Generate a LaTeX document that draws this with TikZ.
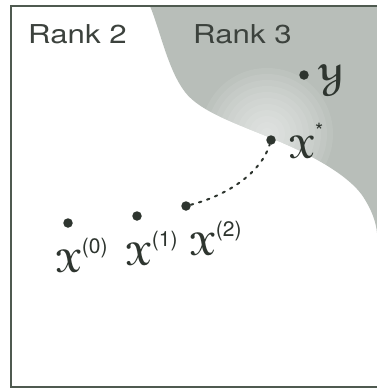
\documentclass[tikz,border=0pt]{standalone}
\usepackage{fontspec}
\setsansfont{TeX Gyre Heros}
\usepackage[mathscr]{eucal}
\usepackage{bm}
\definecolor{frame}{HTML}{4F5A50}
\definecolor{rankgray}{HTML}{B8BEB9}
\definecolor{ink}{HTML}{2E352F}
\definecolor{txt}{HTML}{3C423D}
\newcommand{\supsf}[1]{\raisebox{5pt}{\sffamily\fontsize{21}{24}\selectfont #1}}
\tikzset{
  dot/.style={circle,fill=ink,inner sep=0pt,minimum size=9.5pt},
  rank/.style={text=txt,font=\sffamily\fontsize{26}{30}\selectfont,xscale=1.2,inner sep=0pt,anchor=base west},
  lbl/.style={text=ink,font=\fontsize{32}{36}\selectfont,inner sep=0pt},
  path/.style={ink,line width=2pt,line cap=round,dash pattern=on 2.5pt off 6pt}
}
\begin{document}
\begin{tikzpicture}[x=1pt,y=-1pt]
\useasboundingbox (0,0) rectangle (377,389);
\fill[white] (0,0) rectangle (377,389);
% shaded region
\def\region{(150,6) .. controls (160,30) and (168,70) .. (185,92)
  .. controls (200,112) and (240,125) .. (271,138)
  .. controls (305,152) and (345,172) .. (362,195)
  .. controls (372,210) and (376,222) .. (377,233)
  -- (377,6) -- cycle}
\fill[rankgray] \region;
\begin{scope}
\clip \region;
\foreach \r in {66,60,...,6} {
  \fill[white,opacity=0.08] (267,134) circle (\r);
}
\end{scope}
% frame
\draw[frame,line width=2pt] (377,6) -- (11,6) -- (11,387) -- (377,387);
% texts
\node[rank] (r2) at (28,43) {Rank 2};
\node[rank] (r3) at (193,43) {Rank 3};
% points
\node[dot] (y) at (304,75) {};
\node[dot] (xs) at (271,140) {};
\node[dot] (x2) at (186,206) {};
\node[dot] (x1) at (137,216) {};
\node[dot] (x0) at (68,223) {};
\node[lbl,anchor=west] (ly) at (318,78) {\fontsize{38}{40}\selectfont$\bm{\mathscr{Y}}$};
\node[lbl,anchor=west] (lxs) at (289,141) {$\bm{\mathscr{X}}^{\supsf{*}}$};
\node[lbl,anchor=north] (lx0) at (82,238) {$\bm{\mathscr{X}}^{\supsf{(0)}}$};
\node[lbl,anchor=north] (lx1) at (152,231) {$\bm{\mathscr{X}}^{\supsf{(1)}}$};
\node[lbl,anchor=north] (lx2) at (216,221) {$\bm{\mathscr{X}}^{\supsf{(2)}}$};
\draw[path] (x2) .. controls (232,194) and (262,170) .. (xs);
\end{tikzpicture}
\end{document}
